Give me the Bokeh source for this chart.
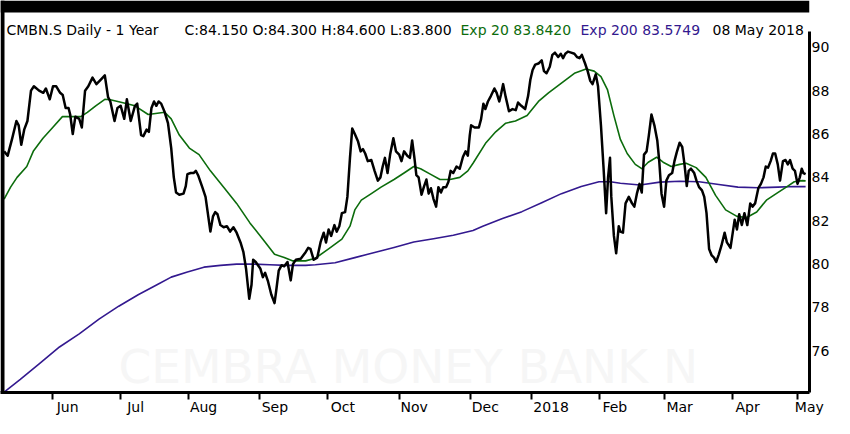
from bokeh.plotting import figure
from bokeh.models import (Range1d, FixedTicker, Label, ColumnDataSource, CustomJSTickFormatter,
                          BoxAnnotation)
from bokeh.embed import file_html
from bokeh.resources import INLINE

# ---------------- data (x = trading-day number since 10 May 2017) ----------------
price_day = [0.0, 1.1, 2.5, 3.8, 4.5, 5.3, 6.2, 7.2, 8.3, 9.2, 10.8, 12.1, 12.9, 14.1, 15.1, 16.1, 17.3, 18.1, 19.0, 19.9,
             20.4, 21.2, 22.0, 23.2, 24.0, 25.0, 26.0, 27.3, 28.5, 29.8, 31.1, 32.1, 32.8, 34.1, 35.0, 36.0, 37.1, 37.9, 39.1, 40.4,
             41.1, 42.3, 43.0, 44.0, 44.7, 45.5, 46.3, 47.0, 47.7, 48.5, 49.6, 50.6, 51.6, 52.4, 53.1, 54.1, 55.4, 56.1, 56.6, 57.6,
             58.5, 59.2, 59.9, 61.2, 62.2, 62.9, 63.7, 64.5, 65.2, 65.9, 66.8, 67.8, 68.8, 69.8, 70.8, 71.8, 73.0, 73.9, 74.7, 75.7,
             76.4, 76.9, 77.7, 78.4, 79.1, 79.9, 80.6, 81.5, 82.5, 83.5, 84.0, 84.8, 85.7, 86.5, 87.5, 88.5, 89.2,
             90.1, 91.6, 93.1, 93.9, 94.6, 95.6, 96.7, 97.7, 98.7, 99.4, 100.2, 101.0, 102.0, 102.7, 103.5, 104.3, 105.3, 106.0, 106.8, 107.5,
             108.3, 109.3, 110.1, 110.8, 111.5, 112.3, 113.4, 114.4, 115.4, 116.2, 116.9, 117.6, 118.4, 119.2, 120.2, 121.0, 122.0, 122.7, 123.5, 124.5,
             125.3, 126.0, 126.7, 127.3, 128.0, 128.9, 129.6, 130.4, 131.1, 131.8, 132.6, 133.4, 134.1, 134.9, 135.6, 136.5, 137.2, 137.9, 138.7, 139.7,
             140.7, 141.7,
             142.5, 143.2, 143.8, 144.2, 145.3, 146.6, 147.3, 148.0, 148.6, 149.4, 150.3, 151.4, 152.1, 152.9, 153.4, 154.1, 154.9, 155.9, 157.0, 158.0,
             158.7, 159.7, 160.9, 161.8, 162.5, 163.2, 164.0, 165.0, 166.0, 166.7, 167.5, 168.5, 169.3, 170.1, 171.1, 171.9, 172.6, 173.3, 174.1, 175.1,
             176.1, 176.9, 177.7, 178.4, 179.4, 180.2, 181.0, 181.7, 182.7, 183.4, 184.3, 185.1, 185.9, 186.5, 187.1, 187.5, 188.3, 189.0, 189.8,
             190.3, 191.1, 191.9, 192.9, 193.9, 194.6, 195.4, 196.2, 196.9, 197.6, 198.4, 199.1, 199.9, 200.8, 201.7, 202.3, 203.0, 203.8, 204.5, 205.3,
             206.3, 207.0, 207.7, 208.6, 209.4, 210.1, 210.8, 211.4, 212.1, 213.1, 213.8, 214.6, 215.5, 216.2, 216.9, 217.7, 218.5, 219.2, 219.9, 220.7,
             221.5, 222.5, 223.2, 224.3, 225.0, 225.6, 226.3, 227.0, 227.8, 228.6, 229.5, 230.4, 231.1, 231.9, 232.9, 233.7, 234.5, 235.2, 235.9, 236.7,
             237.4, 238.1, 238.9, 239.6, 240.5, 241.3, 242.0, 242.7, 243.5, 244.2, 245.0, 245.7, 246.3, 246.8, 247.5]
price_close = [85.2, 85.0, 85.8, 86.6, 86.4, 85.5, 86.2, 86.6, 88.0, 88.2, 88.0, 87.9, 88.1, 87.6, 88.2, 88.2, 87.9, 87.8, 87.2, 87.2,
               86.9, 86.0, 86.8, 86.7, 86.3, 88.0, 88.2, 88.6, 88.3, 88.5, 88.7, 87.7, 87.5, 86.6, 87.2, 87.3, 86.7, 87.6, 86.6, 87.3,
               87.4, 85.95, 85.9, 86.2, 86.1, 87.2, 87.5, 87.3, 87.5, 87.4, 87.0, 86.5, 85.35, 84.0, 83.3, 83.2, 83.25, 83.6, 84.15, 84.2,
               84.2, 84.3, 84.1, 83.55, 83.1, 82.35, 81.5, 82.2, 82.4, 82.3, 81.8, 81.7, 81.75, 81.5, 81.7, 81.45, 81.0, 80.55, 79.8, 78.4,
               79.05, 80.2, 80.1, 79.95, 79.8, 79.4, 79.6, 79.2, 78.6, 78.2, 78.75, 79.7, 79.95, 79.9, 80.1, 79.25, 80.0,
               80.2, 80.25, 80.55, 80.75, 80.7, 80.2, 80.3, 81.0, 81.45, 81.0, 81.6, 81.3, 81.8, 81.5, 81.75, 82.35, 82.4, 83.1, 84.9, 86.25,
               86.0, 85.65, 85.2, 85.3, 85.1, 84.75, 84.8, 84.3, 83.85, 84.0, 84.5, 84.9, 84.2, 85.05, 85.8, 85.2, 85.05, 84.75, 85.2, 85.0,
               84.9, 85.7, 84.9, 84.1, 84.0, 83.2, 83.55, 83.9, 83.25, 83.5, 83.0, 82.65, 83.55, 83.3, 83.55, 83.55, 83.8, 84.3, 84.2, 84.5,
               84.4, 84.95,
               85.2, 85.0, 85.95, 86.4, 86.3, 86.3, 86.7, 87.4, 87.15, 87.5, 87.75, 88.1, 87.9, 87.5, 87.8, 88.3, 87.7, 87.05, 87.15, 87.1,
               87.45, 87.3, 87.15, 87.75, 88.5, 88.95, 89.2, 89.25, 89.4, 88.9, 88.8, 89.1, 89.65, 89.75, 89.55, 89.7, 89.5, 89.7, 89.8, 89.75,
               89.7, 89.55, 89.5, 89.65, 89.25, 88.9, 88.45, 88.3, 88.75, 88.2, 86.4, 84.45, 82.35, 84.0, 84.9, 83.1, 81.3, 80.5, 81.75,
               81.5, 81.45, 82.8, 83.1, 82.8, 82.65, 83.25, 83.7, 83.3, 85.05, 85.2, 85.95, 86.9, 86.4, 85.7, 84.75, 83.25, 82.65, 83.85, 84.1,
               84.2, 84.75, 85.15, 85.6, 85.4, 84.6, 83.6, 84.3, 84.4, 84.2, 83.85, 83.55, 83.4, 83.1, 82.35, 80.7, 80.4, 80.3, 80.1, 80.45,
               80.85, 81.45, 81.0, 80.75, 81.45, 82.05, 81.6, 82.3, 81.8, 82.35, 81.8, 82.8, 82.65, 82.8, 83.5, 83.7, 84.0, 84.5, 84.45, 84.75,
               85.1, 85.1, 84.6, 83.85, 84.75, 84.8, 84.6, 84.8, 84.4, 84.3, 83.7, 84.0, 84.4, 84.2, 84.15]

ema20_day = [0, 2, 4, 7, 9, 12, 15, 18, 20.7, 23.7, 25.7, 28.3, 31.1, 32.8, 36.4, 40.4, 44.5, 49.6, 51.6, 54.1,
             57.2, 60.2, 63.7, 67.8, 71.8, 75.9, 79.9, 83.5, 86.5, 89.0, 93.1, 96.1, 100.2, 104.3, 106.8, 108.3, 110.3, 113.4, 116.4, 120.4,
             123.5, 126.5, 128.6, 131.6, 134.6, 137.7, 140.7, 143.2, 144.8, 148.8, 151.8, 154.9, 157.9, 161.5, 165.0, 168.1, 172.1, 176.1, 179.7, 182.2,
             184.3, 186.3, 188.3, 190.3, 192.4, 194.9, 196.9, 198.9, 201.5, 203.5, 206.0, 208.6, 210.6, 213.7, 216.7, 219.7, 222.8, 226.3, 229.3, 232.4,
             235.4, 238.9, 242.0, 244.0, 246.5, 247.5]
ema20 = [83.0, 83.55, 84.0, 84.5, 85.2, 85.8, 86.3, 86.8, 86.8, 86.8, 87.0, 87.3, 87.6, 87.58, 87.45, 87.3, 86.9, 87.0, 86.7, 85.95,
         85.35, 85.05, 84.3, 83.55, 82.8, 81.9, 81.15, 80.45, 80.3, 80.15, 80.15, 80.27, 80.7, 81.15, 81.75, 82.5, 82.95, 83.25, 83.55, 83.9,
         84.2, 84.5, 84.4, 84.15, 83.9, 83.9, 84.0, 84.3, 84.65, 85.6, 86.1, 86.5, 86.6, 86.85, 87.5, 87.9, 88.35, 88.8, 89.0, 88.9,
         88.65, 88.05, 86.85, 85.75, 85.1, 84.6, 84.4, 84.7, 84.93, 84.7, 84.5, 84.6, 84.65, 84.45, 84.0, 83.17, 82.5, 82.2, 82.15, 82.4,
         82.95, 83.3, 83.6, 83.8, 83.85, 83.84]

ema200_day = [0, 5, 11.1, 17.1, 23.2, 29.3, 35.4, 41.4, 47.5, 51.6, 56.6, 61.7, 66.8, 71.8, 76.9, 82.0, 87.0, 93.1, 96.1, 102.2,
              108.3, 114.4, 120.4, 126.5, 132.6, 138.7, 144.8, 147.8, 153.9, 159.9, 166.0, 172.1, 178.2, 183.7, 187.2, 190.3, 196.4, 202.5, 208.6, 214.6,
              220.7, 226.6, 232.9, 238.9, 244.0, 247.5]
ema200 = [74.1, 74.68, 75.43, 76.18, 76.78, 77.46, 78.06, 78.59, 79.07, 79.4, 79.64, 79.86, 79.94, 80.0, 80.0, 79.97, 79.94, 79.94, 79.97, 80.06,
          80.3, 80.54, 80.77, 81.02, 81.17, 81.33, 81.55, 81.75, 82.1, 82.42, 82.83, 83.25, 83.58, 83.8, 83.8, 83.73, 83.65, 83.78, 83.82, 83.8,
          83.67, 83.55, 83.52, 83.55, 83.58, 83.575]

month_start_day = [15, 36, 57, 79, 100, 122, 144, 163, 184, 204, 225, 245]
month_labels = ["Jun", "Jul", "Aug", "Sep", "Oct", "Nov", "Dec", "2018", "Feb", "Mar", "Apr", "May"]
y_ticks = [76, 78, 80, 82, 84, 86, 88, 90]

title_parts = ["CMBN.S Daily -  1 Year", "C:84.150 O:84.300 H:84.600 L:83.800",
               "Exp 20 83.8420", "Exp 200 83.5749", "08 May 2018"]

assert len(price_day) == len(price_close)
assert len(ema20_day) == len(ema20)
assert len(ema200_day) == len(ema200)

# ---------------- geometry ----------------
W, H = 834, 418
BORDER_RIGHT, BORDER_BOTTOM = 25, 26
FRAME_W, FRAME_H = W - BORDER_RIGHT, H - BORDER_BOTTOM      # frame spans the header row too
BOX_LEFT_PX, BOX_TOP_PX = 4, 37                             # chart area inside the frame
DAY_LEFT, DAY_RIGHT = 0.12, 248.7                           # trading days at chart left / right edge
VAL_TOP, VAL_BOTTOM = 90.45, 74.08                          # values at chart top / bottom edge

px_per_day = (FRAME_W - BOX_LEFT_PX) / (DAY_RIGHT - DAY_LEFT)
px_per_val = (FRAME_H - BOX_TOP_PX) / (VAL_TOP - VAL_BOTTOM)
x_start = DAY_LEFT - BOX_LEFT_PX / px_per_day
y_end = VAL_TOP + BOX_TOP_PX / px_per_val


def xd(px):   # frame pixel -> day
    return x_start + px / px_per_day


def yd(py):   # frame pixel (from top) -> value
    return y_end - py / px_per_val


GREEN = "#0c6c0c"
INDIGO = "#33198f"
FONT = "DejaVu Sans"

p = figure(width=W, height=H, output_backend="svg", toolbar_location=None,
           x_range=Range1d(x_start, DAY_RIGHT), y_range=Range1d(VAL_BOTTOM, y_end),
           x_axis_location="below", y_axis_location="right",
           min_border_left=0, min_border_right=BORDER_RIGHT, min_border_top=0, min_border_bottom=BORDER_BOTTOM,
           background_fill_color="white", border_fill_color="white")
p.xgrid.visible = False
p.ygrid.visible = False
p.outline_line_color = None

# bottom axis: minor ticks mark month starts, labels sit just right of them
label_pos = [min(d + (2 + 4.3 * len(lbl)) / px_per_day, DAY_RIGHT - 0.05)
             for d, lbl in zip(month_start_day, month_labels)]
xa = p.xaxis[0]
xa.ticker = FixedTicker(ticks=label_pos, minor_ticks=month_start_day)
xa.formatter = CustomJSTickFormatter(args=dict(pos=label_pos, labels=month_labels), code="""
    for (let i = 0; i < pos.length; i++) { if (Math.abs(pos[i] - tick) < 1e-6) return labels[i]; }
    return "";
""")
xa.axis_line_color = "black"
xa.axis_line_width = 3
xa.major_tick_in = 0
xa.major_tick_out = 0
xa.minor_tick_in = 0
xa.minor_tick_out = 7
xa.minor_tick_line_color = "black"
xa.minor_tick_line_width = 2
xa.major_label_standoff = -1
xa.major_label_text_font = FONT
xa.major_label_text_font_size = "14px"
xa.major_label_text_color = "black"

ya = p.yaxis[0]
ya.ticker = FixedTicker(ticks=y_ticks)
ya.bounds = (VAL_BOTTOM, VAL_TOP + 6 / px_per_val)
ya.axis_line_color = "black"
ya.axis_line_width = 3
ya.major_tick_in = 0
ya.major_tick_out = 0
ya.minor_tick_in = 0
ya.minor_tick_out = 0
ya.major_label_standoff = 2
ya.major_label_text_font = FONT
ya.major_label_text_font_size = "14px"
ya.major_label_text_color = "black"

# screenshot-style black edges (top strip, left edge)
p.add_layout(BoxAnnotation(left=x_start, right=DAY_RIGHT, top=y_end, bottom=yd(12),
                           fill_color="black", fill_alpha=1.0, line_color=None))
p.add_layout(BoxAnnotation(left=x_start, right=xd(BOX_LEFT_PX), top=y_end, bottom=VAL_BOTTOM,
                           fill_color="black", fill_alpha=1.0, line_color=None))

# watermark
p.add_layout(Label(x=xd(118), y=yd(366), text="CEMBRA MONEY BANK N", text_font=FONT, text_font_size="47px",
                   text_color="#f6f6f6", text_align="left", text_baseline="alphabetic", level="underlay"))

# lines
p.line(x="d", y="v", source=ColumnDataSource(dict(d=ema200_day, v=ema200)),
       line_color=INDIGO, line_width=1.6, line_join="round")
p.line(x="d", y="v", source=ColumnDataSource(dict(d=ema20_day, v=ema20)),
       line_color=GREEN, line_width=1.6, line_join="round")
p.line(x="d", y="v", source=ColumnDataSource(dict(d=price_day, v=price_close)),
       line_color="black", line_width=2.5, line_join="round")

# header line (coloured parts)
title_px = [6, 184, 460, 580, 712]
title_colors = ["black", "black", GREEN, INDIGO, "black"]
for tpx, txt, col in zip(title_px, title_parts, title_colors):
    p.add_layout(Label(x=xd(tpx), y=yd(29), text=txt, text_font=FONT, text_font_size="14px",
                       text_color=col, text_align="left", text_baseline="alphabetic"))

open("out.html", "w").write(file_html(p, INLINE))
